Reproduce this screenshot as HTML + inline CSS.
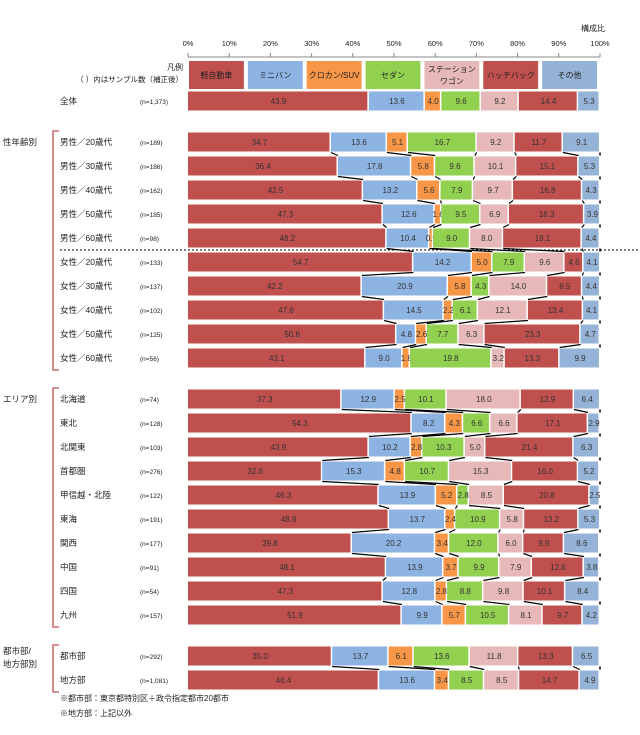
<!DOCTYPE html>
<html><head><meta charset="utf-8"><style>
body{margin:0;background:#fff;width:640px;height:730px;overflow:hidden}
svg{font-family:"Liberation Sans","Noto Sans CJK JP",sans-serif}
</style></head><body>
<svg id="c" width="640" height="730"></svg>
<script>
const categories=["軽自動車","ミニバン","クロカン/SUV","セダン","ステーション\nワゴン","ハッチバック","その他"];
const colors=["#c0504d","#8db3e2","#f79646","#92d050","#e6b9b8","#c0504d","#95b3d7"];
const rowLabels=["全体","男性／20歳代","男性／30歳代","男性／40歳代","男性／50歳代","男性／60歳代","女性／20歳代","女性／30歳代","女性／40歳代","女性／50歳代","女性／60歳代","北海道","東北","北関東","首都圏","甲信越・北陸","東海","関西","中国","四国","九州","都市部","地方部"];
const sampleSizes=["(n=1,373)","(n=189)","(n=186)","(n=162)","(n=185)","(n=98)","(n=133)","(n=137)","(n=102)","(n=125)","(n=56)","(n=74)","(n=128)","(n=103)","(n=276)","(n=122)","(n=191)","(n=177)","(n=91)","(n=54)","(n=157)","(n=292)","(n=1,081)"];
const values=[
[43.9,13.6,4.0,9.6,9.2,14.4,5.3],
[34.7,13.6,5.1,16.7,9.2,11.7,9.1],
[36.4,17.8,5.8,9.6,10.1,15.1,5.3],
[42.5,13.2,5.6,7.9,9.7,16.8,4.3],
[47.3,12.6,1.6,9.5,6.9,18.3,3.9],
[48.2,10.4,0.9,9.0,8.0,19.1,4.4],
[54.7,14.2,5.0,7.9,9.6,4.6,4.1],
[42.2,20.9,5.8,4.3,14.0,8.5,4.4],
[47.6,14.5,2.2,6.1,12.1,13.4,4.1],
[50.6,4.8,2.6,7.7,6.3,23.3,4.7],
[43.1,9.0,1.8,19.8,3.2,13.3,9.9],
[37.3,12.9,2.5,10.1,18.0,12.9,6.4],
[54.3,8.2,4.3,6.6,6.6,17.1,2.9],
[43.9,10.2,2.8,10.3,5.0,21.4,6.3],
[32.6,15.3,4.8,10.7,15.3,16.0,5.2],
[46.3,13.9,5.2,2.8,8.5,20.8,2.5],
[48.8,13.7,2.4,10.9,5.8,13.2,5.3],
[39.8,20.2,3.4,12.0,6.0,9.9,8.6],
[48.1,13.9,3.7,9.9,7.9,12.6,3.8],
[47.3,12.8,2.8,8.8,9.8,10.1,8.4],
[51.9,9.9,5.7,10.5,8.1,9.7,4.2],
[35.0,13.7,6.1,13.6,11.8,13.3,6.5],
[46.4,13.6,3.4,8.5,8.5,14.7,4.9]];
const rowY=[101,142,166,190,214,238,262,286,310,334,358,399,423,447,471,495,519,543,567,591,615,656,680];
const groups=[[0],[1,2,3,4,5,6,7,8,9,10],[11,12,13,14,15,16,17,18,19,20],[21,22]];
const ticks=["0%","10%","20%","30%","40%","50%","60%","70%","80%","90%","100%"];
const X0=188,X1=600,BH=19;
const sx=p=>X0+(X1-X0)*p/100;
const svg=document.getElementById('c');const NS="http://www.w3.org/2000/svg";
function mk(t,a,p){const e=document.createElementNS(NS,t);for(const k in a)e.setAttribute(k,a[k]);(p||svg).appendChild(e);return e;}
function tx(x,y,s,size,anchor,fill){const e=mk('text',{x:x,y:y,'font-size':size||9,'text-anchor':anchor||'start',fill:fill||'#222'});e.textContent=s;return e;}
// title & ticks
let t=tx(605,31,"構成比",8,"end");
mk('line',{x1:X0,y1:57,x2:X1,y2:57,stroke:'#888','stroke-width':1});
ticks.forEach((s,i)=>{const x=sx(i*10);let e=tx(x,46,s,7.5,"middle");

mk('line',{x1:x,y1:53,x2:x,y2:57,stroke:'#888'});});
// legend
t=tx(183,70,"凡例",8,"end");
t=tx(183,82,"（ ）内はサンプル数（補正後）",7.5,"end");
const lw=(X1-X0)/7;
categories.forEach((c,i)=>{const x=X0+i*lw+1;
const r=mk('rect',{x:x,y:61,width:lw-4,height:28,fill:colors[i]});

const parts=c.split("\n");parts.forEach((p,j)=>{tx(x+(lw-4)/2,parts.length>1?72+j*12:78,p,8,"middle");});});
// rows
values.forEach((row,r)=>{const y=rowY[r]-BH/2;let cum=0;
let e=tx(60,rowY[r]+3,rowLabels[r],8.5);
e=tx(140,rowY[r]+3,sampleSizes[r],6.5);
row.forEach((v,i)=>{const x=sx(cum),w=sx(cum+v)-x;
const b=mk('rect',{x:x,y:y,width:Math.max(w-1.5,0.5),height:BH,fill:colors[i]});

tx(x+w/2,rowY[r]+3,v.toFixed(1),8,"middle","#333");cum+=v;});});
// connectors
groups.forEach(g=>{for(let k=0;k<g.length-1;k++){const a=values[g[k]],b=values[g[k+1]];let ca=0,cb=0;
for(let i=0;i<6;i++){ca+=a[i];cb+=b[i];
mk('line',{x1:sx(ca),y1:rowY[g[k]]+BH/2+1,x2:sx(cb),y2:rowY[g[k+1]]-BH/2-1,stroke:'#000','stroke-width':1.2});}
mk('line',{x1:X1,y1:rowY[g[k]]+BH/2+1,x2:X1,y2:rowY[g[k+1]]-BH/2-1,stroke:'#000','stroke-width':1.5});}});
// dotted separator
mk('line',{x1:60,y1:250,x2:640,y2:250,stroke:'#000','stroke-dasharray':'2,2'});
// group labels & brackets
t=tx(3,145,"性年齢別",8.5);
t=tx(3,402,"エリア別",8.5);
t=tx(3,654,"都市部/",8.5);
tx(3,667,"地方部別",8.5);
[[131,370],[388,627],[645,692]].forEach(([a,b])=>{const p=mk('path',{d:`M59 ${a} H53 V${b} H59`,stroke:'#c0504d',fill:'none','stroke-width':1.3});
});
t=tx(60,701,"※都市部：東京都特別区＋政令指定都市20都市",8);
t=tx(60,716,"※地方部：上記以外",8);
</script>
</body></html>
